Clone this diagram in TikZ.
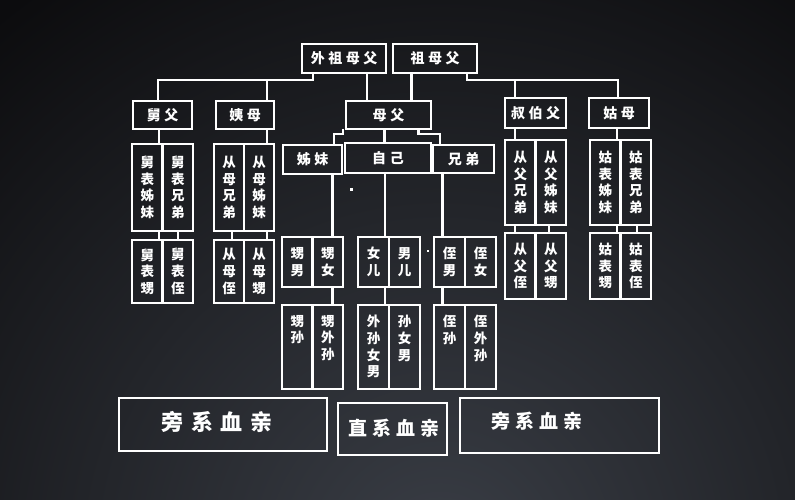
\documentclass[tikz,border=0pt]{standalone}
\usepackage{fontspec}
\newfontfamily\cjk{Noto Sans CJK SC}
\newfontfamily\cjkw[LetterSpace=25]{Noto Sans CJK SC}
\usetikzlibrary{calc}
\definecolor{bgdark}{RGB}{12,12,14}
\definecolor{bglight}{RGB}{58,62,70}
\tikzset{
  box/.style={draw=white, line width=2.4pt, inner sep=0pt, outer sep=0pt,
    text=white, font=\cjkw\bfseries\fontsize{14}{16}\selectfont},
  cell/.style={draw=white, line width=2.4pt, inner sep=0pt, outer sep=0pt,
    minimum width=30.5pt, text=white, align=center,
    font=\cjk\bfseries\fontsize{13.5}{16.7}\selectfont},
  vtext/.style={text=white, inner sep=0pt, align=center, anchor=north,
    font=\cjk\bfseries\fontsize{13.5}{16.7}\selectfont},
  link/.style={draw=white, line width=2.4pt},
}

\begin{document}
\begin{tikzpicture}[x=1pt,y=-1pt]
\useasboundingbox (0,0) rectangle (795,500);
\fill[bgdark] (0,0) rectangle (795,500);
\begin{scope}
  \clip (0,0) rectangle (795,500);
  \shade[inner color=bglight, outer color=bgdark] (440,560) circle (700);
\end{scope}

% grandparents and parents
\node[box, minimum width=84pt, minimum height=29pt] (wzf) at (344,58.5) {外祖母父};
\node[box, minimum width=84pt, minimum height=29pt] (zmf) at (435,58.5) {祖母父};
\node[box, minimum width=59pt, minimum height=28pt] (jiufu) at (162.5,115) {舅父};
\node[box, minimum width=58pt, minimum height=28pt] (yimu) at (245,115) {姨母};
\node[box, minimum width=85pt, minimum height=28pt] (mufu) at (388.5,115) {母\hspace{4pt}父};
\node[box, minimum width=61pt, minimum height=30pt] (shubo) at (535.5,113) {叔伯父};
\node[box, minimum width=60pt, minimum height=30pt] (gumu) at (619,113) {姑母};
\node[box, minimum width=59pt, minimum height=29pt] (zimei) at (312.5,159.5) {姊妹};
\node[box, minimum width=86pt, minimum height=30pt] (ziji) at (388,158) {自\hspace{4pt}己};
\node[box, minimum width=61pt, minimum height=28pt] (xiongdi) at (463.5,159) {兄弟};

% side cells, text centred
\foreach \n/\x/\y/\h/\t in {
  j1/147.25/187.5/87/{舅\\表\\姊\\妹}, j2/177.75/187.5/87/{舅\\表\\兄\\弟},
  y1/229/187.5/87/{从\\母\\兄\\弟}, y2/259/187.5/87/{从\\母\\姊\\妹},
  j3/147.25/271.5/63/{舅\\表\\甥}, j4/177.75/271.5/63/{舅\\表\\侄},
  y3/229/271.5/63/{从\\母\\侄}, y4/259/271.5/63/{从\\母\\甥},
  b1/520.25/182.5/85/{从\\父\\兄\\弟}, b2/550.75/182.5/85/{从\\父\\姊\\妹},
  g1/605.25/182.5/85/{姑\\表\\姊\\妹}, g2/635.75/182.5/85/{姑\\表\\兄\\弟},
  b3/520.25/266/66/{从\\父\\侄}, b4/550.75/266/66/{从\\父\\甥},
  g3/605.25/266/66/{姑\\表\\甥}, g4/635.75/266/66/{姑\\表\\侄},
  s1/297.25/262/50/{甥\\男}, s2/327.75/262/50/{甥\\女},
  n1/373.5/262/50/{女\\儿}, n2/404.5/262/50/{男\\儿},
  z1/449.5/262/50/{侄\\男}, z2/480.5/262/50/{侄\\女}}
  \node[cell, minimum height=\h pt] (\n) at (\x,\y) {\t};

% grandchildren cells, text from the top
\foreach \n/\x/\t in {
  s3/297.25/{甥\\孙}, s4/327.75/{甥\\外\\孙},
  n3/373.5/{外\\孙\\女\\男}, n4/404.5/{孙\\女\\男},
  z3/449.5/{侄\\孙}, z4/480.5/{侄\\外\\孙}}
{
  \node[cell, minimum height=84pt] (\n) at (\x,347) {};
  \node[vtext] (\n t) at ([yshift=-10pt]\n.north) {\t};
}

% legend
\node[box, minimum width=208pt, minimum height=53pt] (pl) at (223,424.5) {};
\node[text=white, font=\cjk\bfseries\fontsize{22}{24}\selectfont\addfontfeature{LetterSpace=36}]
  (plt) at (217,421.5) {旁系血亲};
\node[box, minimum width=109pt, minimum height=52pt] (zx) at (392.5,429) {};
\node[text=white, font=\cjk\bfseries\fontsize{19}{22}\selectfont\addfontfeature{LetterSpace=26}]
  (zxt) at (394,428) {直系血亲};
\node[box, minimum width=199pt, minimum height=55pt] (pr) at (559.5,425.5) {};
\node[text=white, font=\cjk\bfseries\fontsize{19}{22}\selectfont\addfontfeature{LetterSpace=26}]
  (prt) at (537,421.5) {旁系血亲};

% connectors
\draw[link] ([xshift=-31pt]wzf.south) -- ++(0,7) coordinate (lb)
  -| ([xshift=-4.5pt]jiufu.north);
\draw[link] ([xshift=21.7pt]yimu.north) |- (lb);
\draw[link] ([xshift=-21.5pt]mufu.north) -- ([xshift=-21.5pt]mufu.north |- wzf.south);
\draw[link] ([xshift=23pt]mufu.north) -- ([xshift=23pt]mufu.north |- zmf.south);
\draw[link] ([xshift=32pt]zmf.south) -- ++(0,7) coordinate (rb)
  -| ([xshift=-1pt]gumu.north);
\draw[link] ([xshift=-20.5pt]shubo.north) |- (rb);

\draw[link] ([xshift=-3.5pt]jiufu.south) -- ([xshift=11.75pt]j1.north);
\draw[link] ([xshift=11.75pt]j1.south) -- ([xshift=11.75pt]j3.north);
\draw[link] (j2.south) -- (j4.north);
\draw[link] ([xshift=21.7pt]yimu.south) -- ([xshift=7.7pt]y2.north);
\draw[link] ([xshift=2.7pt]y1.south) -- ([xshift=2.7pt]y3.north);
\draw[link] ([xshift=7.7pt]y2.south) -- ([xshift=7.7pt]y4.north);

\draw[link] ([xshift=-20.5pt]shubo.south) -- ([xshift=-5.25pt]b1.north);
\draw[link] ([xshift=-5.25pt]b1.south) -- ([xshift=-5.25pt]b3.north);
\draw[link] ([xshift=-1.5pt]b2.south) -- ([xshift=-1.5pt]b4.north);
\draw[link] ([xshift=-2pt]gumu.south) -- ([xshift=11.75pt]g1.north);
\draw[link] ([xshift=11.75pt]g1.south) -- ([xshift=11.75pt]g3.north);
\draw[link] ([xshift=1pt]g2.south) -- ([xshift=1pt]g4.north);

\draw[link] ([xshift=-4.2pt]mufu.south) -- ([xshift=-3.7pt]ziji.north);
\draw[link] ([xshift=-45.5pt]mufu.south) -- ++(0,5) -| ([xshift=21.5pt]zimei.north);
\draw[link] ([xshift=30pt]mufu.south) -- ++(0,5) -| ([xshift=-23.5pt]xiongdi.north);

\draw[link] ([xshift=20pt]zimei.south) -- ([xshift=4.75pt]s2.north);
\draw[link] ([xshift=4.75pt]s2.south) -- ([xshift=4.75pt]s4.north);
\draw[link] ([xshift=-3pt]ziji.south) -- ([xshift=11.5pt]n1.north);
\draw[link] ([xshift=11.5pt]n1.south) -- ([xshift=11.5pt]n3.north);
\draw[link] ([xshift=-21pt]xiongdi.south) -- ([xshift=-7pt]z1.north);
\draw[link] ([xshift=-7pt]z1.south) -- ([xshift=-7pt]z3.north);

% specks
\fill[white] (349.5,187.5) rectangle ++(3,3);
\fill[white] (426.5,249.5) rectangle ++(2.5,2.5);
\end{tikzpicture}
\end{document}
